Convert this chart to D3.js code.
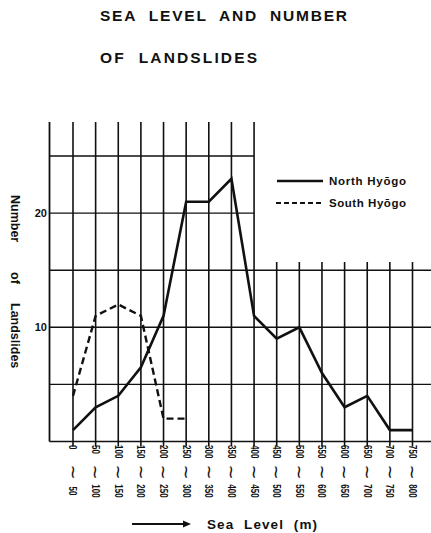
<!DOCTYPE html>
<html><head><meta charset="utf-8">
<script src="https://cdn.jsdelivr.net/npm/d3@7"></script>
<style>
html,body{margin:0;padding:0;background:#fff;}
svg{display:block;font-family:"Liberation Sans",Arial,sans-serif;}
</style></head>
<body>
<script>
const tickTop = ["0","50","100","150","200","250","300","350","400","450","500","550","600","650","700","750"];
const tickBottom = ["50","100","150","200","250","300","350","400","450","500","550","600","650","700","750","800"];
const northHyogo = [1,3,4,6.5,11,21,21,23,11,9,10,6,3,4,1,1];
const southHyogo = [4,11,12,11,2,2];
const yGridValues = [5,10,15,20,25];
const yTickLabels = [10,20];
const titleLines = ["SEA  LEVEL  AND  NUMBER","OF  LANDSLIDES"];
const yTitleWords = ["Number","of","Landslides"];

(function(){
const W = 431, H = 533;
const svg = d3.select("body").append("svg").attr("width", W).attr("height", H);

const x = d3.scalePoint().domain(tickTop).range([73, 412.5]);
const y = d3.scaleLinear().domain([0, 25]).range([441.5, 156]);
const plotLeft = 49.5, plotRight = 431, plotTop = 122;
const tallUntil = 8;

const ink = "#111";
const g = svg.append("g");

yGridValues.forEach(v => {
  const x2 = v >= 20 ? x(tickTop[tallUntil]) : plotRight;
  g.append("line").attr("x1", plotLeft).attr("x2", x2).attr("y1", y(v)).attr("y2", y(v))
    .attr("stroke", ink).attr("stroke-width", 1.4);
});
g.append("line").attr("x1", plotLeft).attr("x2", plotLeft).attr("y1", plotTop).attr("y2", y(0))
  .attr("stroke", ink).attr("stroke-width", 1.8);
g.append("line").attr("x1", plotLeft).attr("x2", plotRight).attr("y1", y(0)).attr("y2", y(0))
  .attr("stroke", ink).attr("stroke-width", 1.6);
tickTop.forEach((c, i) => {
  g.append("line").attr("x1", x(c)).attr("x2", x(c))
    .attr("y1", i <= tallUntil ? plotTop : 262).attr("y2", y(0) + 5)
    .attr("stroke", ink).attr("stroke-width", 1.6);
});

yTickLabels.forEach(v => {
  svg.append("text").attr("x", 47).attr("y", y(v)).attr("dy", "0.35em")
    .attr("text-anchor", "end").attr("font-size", 11).attr("font-weight", "bold")
    .attr("fill", ink).text(v);
});

tickTop.forEach((c, i) => {
  const cx = x(c);
  svg.append("text").attr("transform", `translate(${cx},445) rotate(90) scale(0.8,1)`)
    .attr("text-anchor", "start").attr("dy", "0.35em")
    .attr("font-size", 10).attr("font-weight", "bold").attr("fill", ink).text(c);
  svg.append("text").attr("transform", `translate(${cx},472) rotate(90) scale(1.5,1)`)
    .attr("text-anchor", "middle").attr("dy", "0.35em")
    .attr("font-family", "DejaVu Sans").attr("font-size", 12).attr("font-weight", "bold")
    .attr("fill", ink).text("~");
  svg.append("text").attr("transform", `translate(${cx},491) rotate(90) scale(0.8,1)`)
    .attr("text-anchor", "middle").attr("dy", "0.35em")
    .attr("font-size", 10).attr("font-weight", "bold").attr("fill", ink).text(tickBottom[i]);
});

const line = d3.line().x((d, i) => x(tickTop[i])).y(d => y(d));
svg.append("path").datum(northHyogo).attr("d", line).attr("fill", "none")
  .attr("stroke", ink).attr("stroke-width", 2.6).attr("stroke-linejoin", "miter");
svg.append("path").datum(southHyogo).attr("d", line).attr("fill", "none")
  .attr("stroke", ink).attr("stroke-width", 2.4).attr("stroke-dasharray", "7,4");

const leg = svg.append("g");
leg.append("line").attr("x1", 277).attr("x2", 323).attr("y1", 181).attr("y2", 181)
  .attr("stroke", ink).attr("stroke-width", 2.4);
leg.append("line").attr("x1", 276).attr("x2", 323).attr("y1", 203).attr("y2", 203)
  .attr("stroke", ink).attr("stroke-width", 2.2).attr("stroke-dasharray", "5,3");
leg.append("text").attr("x", 329).attr("y", 185).attr("font-size", 11.5).attr("font-weight", "bold")
  .attr("textLength", 77).attr("lengthAdjust", "spacing").attr("fill", ink).text("North  Hyōgo");
leg.append("text").attr("x", 329).attr("y", 207).attr("font-size", 11.5).attr("font-weight", "bold")
  .attr("textLength", 77).attr("lengthAdjust", "spacing").attr("fill", ink).text("South  Hyōgo");

svg.append("text").attr("x", 100).attr("y", 21).attr("font-size", 15.5).attr("font-weight", "bold")
  .attr("textLength", 247).attr("lengthAdjust", "spacing").attr("fill", ink)
  .style("white-space", "pre").text(titleLines[0]);
svg.append("text").attr("x", 100).attr("y", 63).attr("font-size", 15.5).attr("font-weight", "bold")
  .attr("textLength", 157).attr("lengthAdjust", "spacing").attr("fill", ink)
  .style("white-space", "pre").text(titleLines[1]);

const yStarts = [195, 272, 303];
yTitleWords.forEach((w, i) => {
  svg.append("text").attr("transform", `translate(11,${yStarts[i]}) rotate(90)`)
    .attr("text-anchor", "start").attr("font-size", 12.5).attr("font-weight", "bold")
    .attr("fill", ink).text(w);
});

svg.append("line").attr("x1", 132).attr("x2", 186).attr("y1", 524).attr("y2", 524)
  .attr("stroke", ink).attr("stroke-width", 2);
svg.append("path").attr("d", "M191,524 L183,520.5 L183,527.5 Z").attr("fill", ink);
svg.append("text").attr("x", 207).attr("y", 529).attr("font-size", 13.5).attr("font-weight", "bold")
  .attr("textLength", 110).attr("lengthAdjust", "spacing").attr("fill", ink)
  .style("white-space", "pre").text("Sea  Level  (m)");
})();
</script>
</body></html>
